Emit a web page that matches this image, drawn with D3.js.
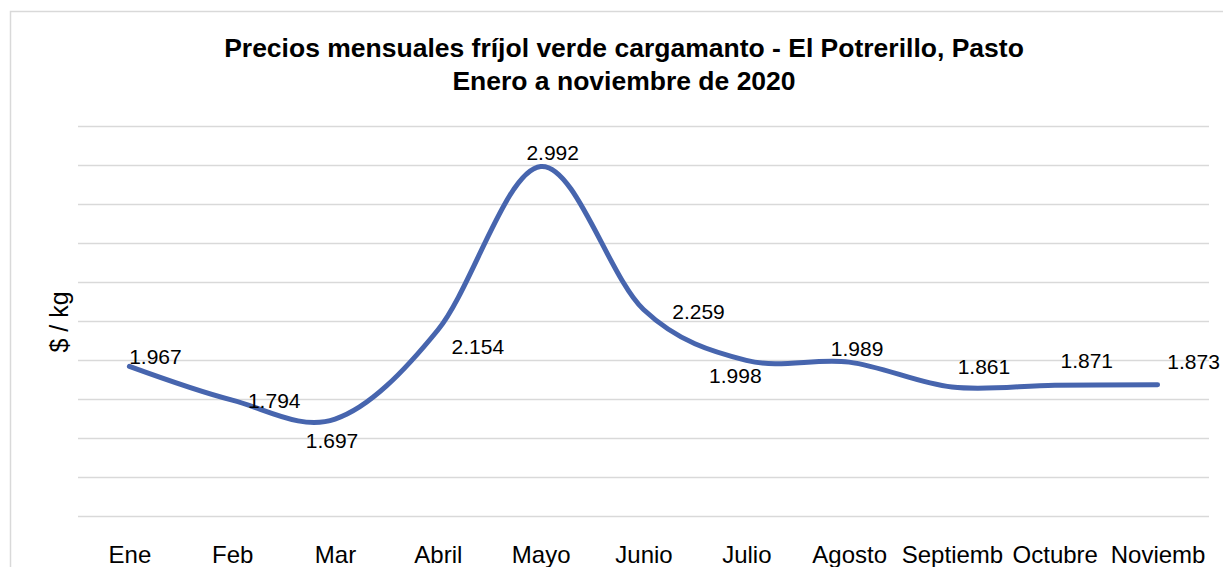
<!DOCTYPE html>
<html lang="es">
<head>
<meta charset="UTF-8">
<title>Precios mensuales fríjol verde cargamanto</title>
<script src="https://d3js.org/d3.v7.min.js"></script>
<style>
  body { margin: 0; background: #fff; }
  text { font-family: "Liberation Sans", Arial, sans-serif; fill: #000; }
</style>
</head>
<body>
<script>
// data
const months = ["Ene", "Feb", "Mar", "Abril", "Mayo", "Junio", "Julio", "Agosto", "Septiemb", "Octubre", "Noviemb"];
const prices = [1967, 1794, 1697, 2154, 2992, 2259, 1998, 1989, 1861, 1871, 1873];
const yTicks = [1200, 1400, 1600, 1800, 2000, 2200, 2400, 2600, 2800, 3000, 3200];

// where each data label sits relative to its point (as Excel left them)
const labelShift = [[26, -10], [42, 0], [-3, 21], [40, 17], [12, -14], [55, 2],
                    [-11, 15], [8, -14], [32, -21], [32, -25], [36, -23]];

const width = 1223, height = 567;
const margin = { top: 126, right: 14, bottom: 51, left: 78 };

const svg = d3.select("body").append("svg")
    .attr("width", width)
    .attr("height", height);

// chart frame
svg.append("rect")
    .attr("x", 10.5).attr("y", 11.5)
    .attr("width", width).attr("height", height)
    .attr("fill", "none")
    .attr("stroke", "#d9d9d9")
    .attr("stroke-width", 1.5);

const x = d3.scalePoint()
    .domain(months)
    .range([margin.left, width - margin.right])
    .padding(0.5);

const y = d3.scaleLinear()
    .domain([1200, 3200])
    .range([height - margin.bottom, margin.top]);

// gridlines
svg.append("g")
    .attr("transform", `translate(${margin.left},0)`)
    .call(d3.axisLeft(y).tickValues(yTicks).tickSize(-(width - margin.left - margin.right)).tickFormat(""))
    .call(g => g.select(".domain").remove())
    .call(g => g.selectAll(".tick line").attr("stroke", "#d9d9d9").attr("stroke-width", 1.3));

// x axis labels
svg.append("g")
    .attr("transform", `translate(0,${height - margin.bottom})`)
    .call(d3.axisBottom(x).tickSize(0).tickPadding(30))
    .call(g => g.select(".domain").remove())
    .call(g => g.selectAll("text").attr("font-size", 24).attr("font-family", "Liberation Sans, Arial, sans-serif").attr("fill", "#000"));

// line
const line = d3.line()
    .curve(d3.curveCardinal.tension(0))
    .x((d, i) => x(months[i]))
    .y(d => y(d));

svg.append("path")
    .datum(prices)
    .attr("d", line)
    .attr("fill", "none")
    .attr("stroke", "#4765ae")
    .attr("stroke-width", 5)
    .attr("stroke-linecap", "round");

// data labels
const es = d3.formatLocale({ decimal: ",", thousands: ".", grouping: [3], currency: ["$", ""] });
const fmt = es.format(",d");

svg.append("g").selectAll("text")
    .data(prices)
    .join("text")
    .attr("x", (d, i) => x(months[i]) + labelShift[i][0])
    .attr("y", (d, i) => y(d) + labelShift[i][1])
    .attr("text-anchor", "middle")
    .attr("dominant-baseline", "central")
    .attr("font-size", 21)
    .text(d => fmt(d));

// y title
svg.append("text")
    .attr("transform", `translate(68,${322}) rotate(-90)`)
    .attr("text-anchor", "middle")
    .attr("font-size", 25)
    .text("$ / kg");

// title
const title = svg.append("text")
    .attr("text-anchor", "middle")
    .attr("font-size", 26.5)
    .attr("font-weight", "bold");
title.append("tspan").attr("x", 624).attr("y", 57)
    .text("Precios mensuales fríjol verde cargamanto - El Potrerillo, Pasto");
title.append("tspan").attr("x", 624).attr("y", 90)
    .text("Enero a noviembre de 2020");
</script>
</body>
</html>
